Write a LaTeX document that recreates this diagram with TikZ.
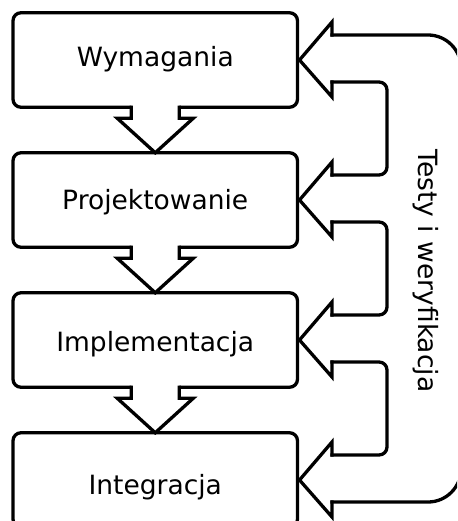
\documentclass[tikz,border=0pt]{standalone}
\usepackage{fontspec}
\setmainfont{DejaVu Sans}
\usetikzlibrary{calc}

\tikzset{
  stage/.style={draw, line width=3.3pt, rounded corners=8pt,
    minimum width=284.5pt, minimum height=94.5pt, inner sep=0pt, outer sep=0pt},
  stagetext/.style={anchor=base, inner sep=0pt, font=\fontsize{26.5}{30}\selectfont},
  outline/.style={line width=3.3pt, line join=miter, line cap=rect},
}

% thick hollow arrow from the bottom of one stage into the top of the next
\newcommand\stepdown[2]{%
  \fill[white] ($(#1.south)+(-24,-3.5)$) -- ($(#1.south)+(-24,11)$)
    -- ($(#1.south)+(-38,11)$) -- (#2.north) -- ($(#1.south)+(38,11)$)
    -- ($(#1.south)+(24,11)$) -- ($(#1.south)+(24,-3.5)$) -- cycle;
  \draw[outline] ($(#1.south)+(-24,0)$) -- ($(#1.south)+(-24,11)$)
    -- ($(#1.south)+(-38,11)$) -- (#2.north) -- ($(#1.south)+(38,11)$)
    -- ($(#1.south)+(24,11)$) -- ($(#1.south)+(24,0)$);
}
% hollow arrow head pointing back into a stage from the right
\newcommand\feedbackhead[1]{%
  \draw[outline] ($(#1.east)+(34.5,-25)$) -- ($(#1.east)+(34.5,-38)$)
    -- ($(#1.east)+(2,0)$) -- ($(#1.east)+(34.5,37)$) -- ($(#1.east)+(34.5,22)$);
}
% inner bend joining the heads of two neighbouring stages
\newcommand\feedbackbend[2]{%
  \draw[outline, rounded corners=8pt] ($(#1.east)+(34.5,22)$) -- ($(#1.east)+(89.5,22)$)
    -- ($(#2.east)+(89.5,-25)$) -- ($(#2.east)+(34.5,-25)$);
}

\begin{document}
\begin{tikzpicture}[x=1pt,y=-1pt]
\useasboundingbox (0,0) rectangle (457,521);
\clip (0,0) rectangle (457,521);

% stages
\node[stage] (b1) at (155.25,60) {};
\node[stage] (b2) at (155.25,200) {};
\node[stage] (b3) at (155.25,340) {};
\node[stage] (b4) at (155.25,480) {};

\node[stagetext] (l1) at (155.25,67) {Wymagania};
\node[stagetext] (l2) at (155.25,209) {Projektowanie};
\node[stagetext] (l3) at (155.25,351) {Implementacja};
\node[stagetext] (l4) at (155.25,494) {Integracja};

% flow downwards
\stepdown{b1}{b2}
\stepdown{b2}{b3}
\stepdown{b3}{b4}

% feedback loop on the right
\feedbackhead{b1}
\feedbackhead{b2}
\feedbackhead{b3}
\feedbackhead{b4}
\feedbackbend{b1}{b2}
\feedbackbend{b2}{b3}
\feedbackbend{b3}{b4}
\draw[outline, rounded corners=33pt] ($(b1.east)+(34.5,-25)$) -- ($(b1.east)+(163.5,-25)$)
  -- ($(b4.east)+(163.5,22)$) -- ($(b4.east)+(34.5,22)$);

\node[stagetext, rotate=-90] (fb) at (418,271) {Testy i weryfikacja};
\end{tikzpicture}
\end{document}
